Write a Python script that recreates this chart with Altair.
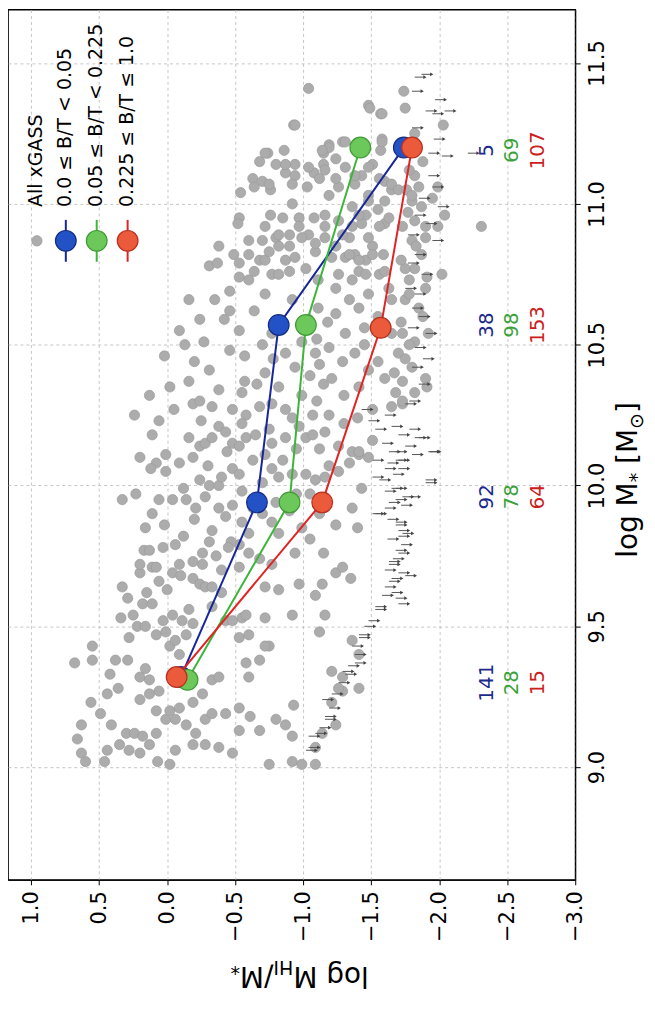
import altair as alt
import pandas as pd

FONT = "DejaVu Sans"

# ---------------- data: (log M*, log MHI/M*) ----------------
det_low = [
    (9.02,0.60),(9.02,0.46),(9.05,0.63),(9.10,0.66),(9.06,0.44),(9.08,0.35),(9.06,0.28),(9.05,0.20),(9.08,0.13),(9.02,0.07),
    (9.01,-0.02),(9.06,-0.06),(9.08,-0.19),(9.08,-0.28),(9.07,-0.38),(9.05,-0.48),(9.13,-0.53),(9.13,-0.68),(9.01,-0.75),(9.02,-0.92),
    (9.01,-0.99),(9.01,-1.09),(9.11,-0.92),(9.07,-1.09),(9.15,0.63),(9.23,0.56),(9.19,0.49),(9.15,0.41),(9.12,0.30),(9.12,0.24),
    (9.11,0.18),(9.12,0.08),(9.17,0.01),(9.17,-0.06),(9.15,-0.14),(9.12,-0.21),(9.17,-0.28),(9.19,-0.33),(9.19,-0.43),(9.21,-0.53),
    (9.18,-0.61),(9.17,-0.80),(9.15,-0.87),(9.22,-0.93),(9.12,-1.14),(9.15,-1.24),(9.23,-1.21),(9.27,-1.29),(9.24,0.20),(9.26,0.13),
    (9.20,0.08),(9.20,-0.02),(9.21,-0.09),(9.23,-0.19),(9.26,-0.26),(9.31,-0.33),(9.32,-0.38),(9.26,0.44),(9.28,0.36),(9.33,0.42),
    (9.38,0.29),(9.38,0.38),(9.38,0.55),(9.37,0.68),(9.35,0.16),(9.32,0.20),(9.31,0.13),(9.27,0.06),(9.32,-0.60),(9.37,-0.58),
    (9.38,-0.68),(9.43,-0.75),(9.34,-1.21),(9.32,-1.29),(9.28,-1.41),(9.28,-1.26),(9.43,0.55),(9.46,0.28),(9.50,0.22),(9.50,0.16),
    (9.47,0.08),(9.48,0.01),(9.43,-0.02),(9.40,-0.09),(9.47,-0.14),(9.45,-0.06),(9.51,-0.19),(9.46,-0.53),(9.47,-0.60),(9.43,-0.72),
    (9.48,-1.12),(9.45,-1.36),(9.40,-1.41),(9.53,0.34),(9.54,0.25),(9.58,0.18),(9.58,0.11),(9.52,0.03),(9.54,-0.04),(9.52,-0.11),
    (9.56,-0.16),(9.57,-0.33),(9.52,-0.43),(9.53,-0.55),(9.54,-0.58),(9.53,-0.72),(9.54,-0.92),(9.54,-1.16),(9.52,-0.48),
]
det_mid = [
    (9.64,0.33),(9.60,0.29),(9.69,0.20),(9.71,0.11),(9.63,0.00),(9.69,-0.04),(9.67,-0.19),(9.65,-0.24),(9.64,-0.28),(9.72,-0.26),
    (9.64,-0.33),(9.71,-0.53),(9.64,-0.72),(9.63,-0.82),(9.65,-0.97),(9.61,-1.09),(9.65,-1.14),(9.69,-1.24),(9.71,-1.29),(9.67,-1.35),
    (9.72,0.20),(9.77,0.17),(9.77,0.13),(9.71,0.08),(9.78,0.03),(9.79,-0.06),(9.72,-0.09),(9.73,-0.19),(9.76,-0.26),(9.80,-0.31),
    (9.79,-0.53),(9.76,-0.60),(9.74,-0.68),(9.72,-0.77),(9.76,-0.94),(9.95,0.33),(9.97,0.23),(9.85,0.16),(9.90,0.11),(9.95,0.06),
    (9.95,-0.04),(9.95,-0.14),(9.92,-0.21),(9.96,-0.28),(9.92,-0.38),(9.89,-0.43),(9.93,-0.48),(9.84,-0.33),(9.80,-0.47),(9.87,-0.55),
    (9.92,-0.63),(9.87,-0.77),(9.83,-0.82),(9.91,-0.90),(9.85,-0.99),(9.90,-1.12),(9.86,-1.24),(9.92,-1.36),(10.10,0.20),(10.08,0.08),
    (10.05,0.01),(10.08,-0.09),(10.10,-0.19),(10.02,-0.24),(10.00,-0.31),(10.00,-0.38),(10.06,-0.48),(10.04,-0.53),(10.09,-0.63),(10.06,-0.77),
    (10.03,-0.82),(10.04,-0.92),(10.04,-1.02),(10.02,-1.09),(10.03,-1.16),(10.05,-1.26),(10.08,-1.34),(9.99,-1.43),(10.11,-1.41),(10.18,0.11),
    (10.11,0.01),(10.17,-0.16),(10.14,-0.24),(10.15,-0.28),(10.17,-0.33),(10.21,-0.38),(10.19,-0.43),(10.15,-0.48),(10.14,-0.53),(10.17,-0.58),
    (10.18,-0.65),(10.11,-0.72),(10.15,-0.77),(10.17,-0.87),(10.21,-0.97),(10.17,-1.02),(10.18,-1.07),(10.19,-1.16),(10.14,-1.26),(10.12,-1.36),
    (10.12,-1.41),(10.16,-1.51),(10.29,-0.19),(10.28,-0.33),(10.27,-0.48),(10.25,-0.58),(10.28,-0.68),(10.29,-0.77),(10.27,-0.87),(10.24,-0.92),
    (10.25,-1.07),(10.25,-1.19),(10.27,-1.51),(10.28,-1.65),(10.29,-1.73),
]
det_mid_fill = [
    (9.62,0.15),(9.66,0.06),(9.68,-0.10),(9.62,-0.40),(9.75,-0.36),(9.78,-0.45),(9.82,-0.12),(9.86,0.02),(9.88,-0.20),(9.83,-0.60),
    (9.90,-0.70),(9.94,-0.80),(9.97,-0.95),(9.97,-1.05),(9.81,-1.05),(9.76,-1.15),(9.85,-1.40),(9.70,-0.40),(9.98,-0.55),(9.99,-0.12),
    (10.03,-0.40),(10.07,-0.30),(10.12,-0.44),(10.09,-0.85),(10.13,-0.95),(10.13,-1.12),(10.20,-0.75),(10.22,-0.55),(10.23,-0.25),(10.22,-1.30),
    (10.07,-1.19),(10.01,-0.70),(10.10,-1.48),(10.24,-1.40),(10.06,0.12),(10.33,-0.55),(10.36,-0.66),(10.39,-1.05),(10.43,-1.12),(10.45,-0.78),
    (10.50,-0.70),(10.52,-1.10),(10.58,-1.18),(10.56,-1.45),(10.60,-1.55),(10.44,-1.55),(10.32,-1.30),(10.30,-1.10),(10.36,-1.15),(10.50,-1.45),
]
det_upper_left = [
    (10.32,0.13),(10.46,0.02),(10.50,-0.13),(10.59,-0.24),(10.66,-0.35),(10.69,-0.46),(10.73,-0.60),(10.37,-0.16),(10.41,-0.31),(10.48,-0.46),
    (10.55,-0.53),(10.62,-0.64),(10.27,-0.05),(10.25,0.24),(10.23,0.06),(10.30,-0.24),(10.34,-0.38),(10.37,-0.57),(10.55,-0.09),(10.51,-0.27),
    (10.59,-0.42),(10.46,-0.57),(10.35,-0.02),(10.44,-0.20),(10.62,-0.46),(10.87,-0.60),(10.78,-0.31),(10.82,-0.49),(10.66,-0.16),(10.80,-0.68),
]
det_high_a = [
    (11.41,-1.04),(11.35,-1.48),(11.32,-1.57),(11.28,-0.93),(11.21,-1.19),(11.22,-1.29),(11.23,-1.58),(11.19,-1.57),(11.18,-0.74),(11.15,-0.68),
    (11.19,-0.86),(11.14,-0.80),(11.14,-0.94),(11.11,-0.87),(11.10,-0.94),(11.11,-1.08),(11.18,-1.15),(11.14,-1.15),(11.16,-1.24),(11.13,-1.31),
    (11.09,-0.63),(11.08,-0.70),(11.05,-0.76),(11.04,-0.54),(11.06,-0.64),(11.06,-1.03),(11.09,-1.12),(11.03,-1.19),(11.06,-1.26),(11.07,-1.38),
    (11.10,-1.43),(11.03,-1.48),(11.08,-1.60),(11.14,-1.51),(11.05,-1.65),(11.00,-0.92),(10.95,-0.53),(10.93,-0.52),(10.96,-0.76),(10.95,-0.85),
    (10.95,-0.97),(10.95,-1.08),(10.96,-1.16),(10.94,-1.26),(10.99,-1.36),(10.96,-1.46),(10.98,-1.55),(10.93,-1.60),(10.87,-0.70),(10.88,-0.80),
    (10.89,-0.90),(10.85,-0.82),(10.92,-0.97),(10.89,-1.04),(10.88,-1.16),(10.85,-1.24),(10.88,-1.34),(10.82,-1.38),(10.93,-1.43),(10.85,-1.51),
    (10.82,-1.59),(10.85,-0.38),(10.79,-0.37),(10.82,-0.60),(10.79,-0.53),(10.80,-0.72),(10.80,-0.87),(10.81,-0.94),(10.83,-1.09),(10.81,-1.31),
    (10.80,-1.46),(10.74,-0.53),(10.76,-0.64),(10.75,-0.77),(10.76,-0.90),(10.77,-1.02),(10.75,-1.26),(10.76,-1.41),(10.75,-1.56),
]
det_high_b = [
    (11.34,-1.49),(11.32,-1.58),(11.34,-1.75),(11.28,-0.94),(11.28,-2.03),(11.22,-1.31),(11.22,-1.58),(11.20,-1.19),(11.19,-1.14),(11.13,-1.04),
    (11.14,-0.87),(11.18,-0.72),(11.07,-0.75),(11.07,-0.92),(11.12,-1.16),(11.09,-1.24),(11.10,-1.38),(11.13,-1.48),(11.09,-1.56),(11.07,-1.65),
    (11.05,-1.70),(11.10,-1.82),(11.06,-1.85),(11.01,-1.80),(10.99,-1.87),(10.94,-1.82),(10.92,-1.90),(10.87,-1.80),(10.82,-1.87),(10.77,-1.82),
    (10.73,-1.78),(10.70,-1.90),(10.66,-1.75),(10.63,-1.85),(10.54,-1.73),(10.51,-1.82),(10.47,-1.70),(10.42,-1.80),(10.37,-1.73),(10.33,-1.82),
    (10.77,-1.75),(10.92,-1.73),(11.05,-1.76),(11.02,-1.95),(10.96,-2.04),(10.92,-1.99),(10.74,-1.91),(10.75,-2.02),(10.54,-1.92),(10.38,-1.90),
    (11.01,-1.48),(10.96,-1.41),(11.01,-1.60),(10.95,-1.63),(10.92,-1.56),(10.88,-1.48),(10.92,-1.36),(10.89,-1.29),(10.92,-1.16),(10.86,-1.09),
    (10.88,-0.99),(10.85,-0.90),(10.89,-0.82),(10.83,-0.75),(10.92,-0.72),(10.80,-1.41),(10.82,-1.34),(10.82,-1.51),(10.81,-1.21),(10.73,-1.36),
    (10.75,-1.46),(10.76,-1.60),(10.70,-1.63),(10.70,-1.24),(10.73,-1.11),(10.66,-1.34),(10.63,-1.41),(10.68,-1.48),(10.66,-1.65),(10.61,-1.24),
    (10.63,-1.11),(10.54,-1.31),(10.47,-1.38),(10.44,-1.29),(10.49,-1.19),(10.47,-1.09),(10.51,-0.99),(10.38,-1.21),(10.35,-1.41),(10.41,-1.48),
    (10.38,-1.60),(10.54,-1.65),(10.68,-0.72),(10.75,-0.82),(10.54,-0.77),(10.66,-0.92),(10.42,-0.94),(10.35,-0.82),(10.40,-0.72),(10.32,-0.99),
    (10.47,-0.87),(10.59,-1.04),
]
det_extra = [
    (11.40,-1.74),(10.92,-2.31),(11.06,-1.99),(10.88,-1.90),(10.35,-1.91),(10.30,-1.73),(10.45,-1.75),(10.50,-1.78),(10.58,-1.72),(10.60,-1.88),
    (10.68,-1.78),(10.80,-1.72),(10.85,-1.83),(10.97,-1.77),(11.03,-1.80),(11.12,-1.78),(11.15,-1.88),(11.25,-1.82),(10.40,-1.67),(10.33,-1.68),
]

# upper limits (arrows)
lim_low = [
    (9.06,-1.02),(9.07,-1.04),(9.12,-1.09),(9.18,-1.16),(9.24,-1.14),(9.26,-1.21),(9.30,-1.26),(9.33,-1.31),(9.37,-1.38),(9.40,-1.38),
    (9.43,-1.36),(9.47,-1.41),(9.52,-1.48),(9.57,-1.53),(9.61,-1.58),(9.60,-1.68),(9.66,-1.63),(9.69,-1.70),(9.67,-1.65),(9.70,-1.60),
    (9.73,-1.63),(9.76,-1.70),(9.77,-1.68),(9.82,-1.70),(9.84,-1.70),(9.87,-1.68),(9.90,-1.51),(9.92,-1.60),(9.95,-1.68),(9.96,-1.73),
    (9.99,-1.65),(10.02,-1.56),(10.06,-1.60),(10.06,-1.70),(10.09,-1.68),(10.12,-1.63),(10.02,-1.90),(10.12,-1.92),(10.17,-1.82),(10.29,-1.75),
    (9.58,-1.70),(9.34,-1.29),(9.17,-1.16),(9.11,-1.04),
]
lim_mid = [
    (10.27,-1.43),(10.23,-1.48),(10.20,-1.53),(10.21,-1.65),(10.20,-1.78),(10.17,-1.85),(10.12,-1.68),(10.11,-1.80),(10.12,-1.93),(10.09,-1.51),
    (10.09,-1.70),(10.03,-1.51),(9.99,-1.68),(10.01,-1.90),(9.96,-1.78),(9.94,-1.63),(9.90,-1.53),(9.86,-1.68),(9.83,-1.73),(9.72,-1.63),
    (9.62,-1.65),(9.56,-1.53),(9.46,-1.41),(10.30,-1.78),(10.36,-1.85),(10.42,-1.80),(10.45,-1.88),
    (9.64,-1.60),(9.68,-1.75),(9.74,-1.66),(9.79,-1.72),(9.81,-1.62),(9.88,-1.62),(9.93,-1.72),(9.98,-1.60),(10.04,-1.66),(10.08,-1.62),
    (10.14,-1.75),(10.18,-1.70),(10.25,-1.60),(10.15,-1.58),(9.50,-1.45),(9.36,-1.33),(9.21,-1.19),(9.14,-1.12),
]
lim_high = [
    (11.46,-1.87),(11.45,-1.82),(11.40,-1.80),(11.37,-1.97),(11.33,-2.04),(11.33,-1.90),(11.32,-1.95),(11.27,-1.80),(11.23,-1.96),(11.17,-2.02),
    (11.18,-1.92),(11.18,-2.21),(11.10,-1.92),(11.06,-1.95),(11.02,-1.85),(10.99,-1.99),(10.96,-1.82),(10.93,-1.90),(10.89,-1.77),(10.87,-1.95),
    (10.82,-1.82),(10.79,-1.77),(10.75,-1.87),(10.70,-1.75),(10.68,-1.82),(10.63,-1.80),(10.60,-1.85),(10.56,-1.77),(10.54,-1.90),(10.49,-1.82),
]

# binned medians
blue_m = [9.32, 9.94, 10.57, 11.20]
blue_f = [-0.10, -0.66, -0.82, -1.74]
green_m = [9.31, 9.94, 10.57, 11.20]
green_f = [-0.15, -0.90, -1.02, -1.42]
red_m = [9.32, 9.94, 10.56, 11.20]
red_f = [-0.07, -1.14, -1.57, -1.80]
# galaxies per bin
count_m = [9.30, 9.96, 10.57, 11.19]
blue_n = [141, 92, 38, 5]
green_n = [28, 78, 98, 69]
red_n = [15, 64, 153, 107]

x_ticks = [1.0, 0.5, 0.0, -0.5, -1.0, -1.5, -2.0, -2.5, -3.0]
y_ticks = [9.0, 9.5, 10.0, 10.5, 11.0, 11.5]
legend_labels = ["All xGASS", "0.0 ≤ B/T < 0.05", "0.05 ≤ B/T < 0.225", "0.225 ≤ B/T ≤ 1.0"]

# ---------------- layout / style ----------------
W, H = 569, 873
TICK_FS = 21
TITLE_FS = 28
SUB_FS = 19
xs = alt.Scale(domain=[-3.0, 1.17], reverse=True, nice=False, zero=False)
ys = alt.Scale(domain=[8.6, 11.69], nice=False, zero=False)
common_axis = dict(labelFont=FONT, labelFontSize=TICK_FS, labelColor="black", tickColor="black",
                   tickSize=5, domainColor="black", title=None, grid=True, gridDash=[3, 3],
                   gridColor="#b8b8b8", gridWidth=0.8, labelOverlap=False, labelFlush=False,
                   format=".1f", labelPadding=6)
xax = alt.Axis(values=x_ticks, orient="bottom", labelAngle=270, labelAlign="right",
               labelBaseline="middle", **common_axis)
yax = alt.Axis(values=y_ticks, orient="right", labelAngle=270, labelAlign="center",
               labelBaseline="top", **common_axis)


def X(field="fhi"):
    return alt.X(f"{field}:Q", scale=xs, axis=xax)


def Y():
    return alt.Y("mstar:Q", scale=ys, axis=yax)


det = pd.DataFrame(det_low + det_mid + det_mid_fill + det_upper_left + det_high_a + det_high_b
                   + det_extra, columns=["mstar", "fhi"])
lim = pd.DataFrame(lim_low + lim_mid + lim_high, columns=["mstar", "fhi"])

layers = []
layers.append(alt.Chart(det).mark_circle(size=105, color="#acacac", stroke="#9a9a9a",
                                          strokeWidth=0.7, opacity=1).encode(x=X(), y=Y()))
ARROW = 0.075
lim_base = alt.Chart(lim).transform_calculate(tip=f"datum.fhi - {ARROW}")
layers.append(lim_base.mark_rule(color="#555555", strokeWidth=1).encode(
    x=X(), x2=alt.X2("tip:Q"), y=Y()))
layers.append(lim_base.mark_point(shape="triangle-right", filled=True, size=14, color="#444444",
                                  opacity=1).encode(x=X("tip"), y=Y()))

series = [
    (blue_m, blue_f, blue_n, "#17279a", "#2352c6", "#152c86", "#1c2a8c", -2.355),
    (green_m, green_f, green_n, "#3db53a", "#6cc85a", "#3f9c36", "#3aa23a", -2.535),
    (red_m, red_f, red_n, "#e02424", "#ec5a3c", "#b9301f", "#cc2020", -2.73),
]
for m, f, n, lc, fc, ec, tc, tpos in series:
    df = pd.DataFrame({"mstar": m, "fhi": f})
    layers.append(alt.Chart(df).mark_line(color=lc, strokeWidth=2).encode(
        x=X(), y=Y(), order="mstar:Q"))
    layers.append(alt.Chart(df).mark_circle(size=430, color=fc, stroke=ec, strokeWidth=1.2,
                                            opacity=1).encode(x=X(), y=Y()))
for m, f, n, lc, fc, ec, tc, tpos in series:
    cdf = pd.DataFrame({"mstar": count_m, "n": n})
    layers.append(alt.Chart(cdf).transform_calculate(fhi=str(tpos)).mark_text(
        angle=270, font=FONT, fontSize=20, color=tc, align="center", baseline="middle").encode(
        x=X(), y=Y(), text="n:Q"))

# legend (drawn by hand, rotated like the figure)
one = pd.DataFrame({"a": [0]})
leg_x = [29, 58, 89, 120]
leg_marker_y = 232
leg_text_y = 198
leg_styles = [("#acacac", "#9a9a9a", None)] + [(s[4], s[5], s[3]) for s in series]
for i, (lab, (fc, ec, lc)) in enumerate(zip(legend_labels, leg_styles)):
    if lc is not None:
        layers.append(alt.Chart(one).mark_rule(color=lc, strokeWidth=2).encode(
            x=alt.value(leg_x[i]), y=alt.value(leg_marker_y - 21), y2=alt.value(leg_marker_y + 21)))
        layers.append(alt.Chart(one).mark_circle(size=430, color=fc, stroke=ec, strokeWidth=1.2,
                                                 opacity=1).encode(x=alt.value(leg_x[i]),
                                                                   y=alt.value(leg_marker_y)))
    else:
        layers.append(alt.Chart(one).mark_circle(size=110, color=fc, stroke=ec, strokeWidth=0.7,
                                                 opacity=1).encode(x=alt.value(leg_x[i]),
                                                                   y=alt.value(leg_marker_y)))
    layers.append(alt.Chart(one).mark_text(text=lab, angle=270, font=FONT, fontSize=19,
                                           color="black", align="left", baseline="middle").encode(
        x=alt.value(leg_x[i] - 1), y=alt.value(leg_text_y)))

# axis titles with subscripts, rotated like the figure
W_EM = {"l": 0.278, "o": 0.612, "g": 0.635, " ": 0.318, "M": 0.863, "H": 0.752, "I": 0.295,
        "/": 0.337, "*": 0.5, "[": 0.39, "]": 0.39, "⊙": 0.838}


def twidth(s, fs):
    return sum(W_EM.get(c, 0.6) for c in s) * fs


def title_pieces(pieces, x, y, angle):
    # pieces: (text, font size, baseline shift, gap before in px)
    out, off = [], 0.0
    for txt, fs, shift, gap in pieces:
        off += gap
        out.append(alt.Chart(one).mark_text(text=txt, font=FONT, fontSize=fs, angle=angle,
                                            align="left", baseline="middle", dx=off, dy=shift,
                                            color="black").encode(x=alt.value(x), y=alt.value(y)))
        off += twidth(txt, fs)
    return out


layers += title_pieces([("log M", TITLE_FS, 0, 0), ("HI", SUB_FS, 8, 0), ("/M", TITLE_FS, 0, 0),
                        ("*", SUB_FS, 8, 0)], x=362, y=968, angle=180)
layers += title_pieces([("log M", TITLE_FS, 0, 0), ("*", SUB_FS, 8, 0),
                        ("[M", TITLE_FS, 0, 0.318 * TITLE_FS), ("⊙", SUB_FS, 8, 0),
                        ("]", TITLE_FS, 0, 0)], x=623, y=550, angle=270)

chart = alt.layer(*layers).properties(
    width=W, height=H, padding={"left": 0, "top": 0, "right": 0, "bottom": 8}
).configure_view(stroke="black", strokeWidth=1.3)

chart.save("out.html", embed_options={"renderer": "svg", "actions": False})
